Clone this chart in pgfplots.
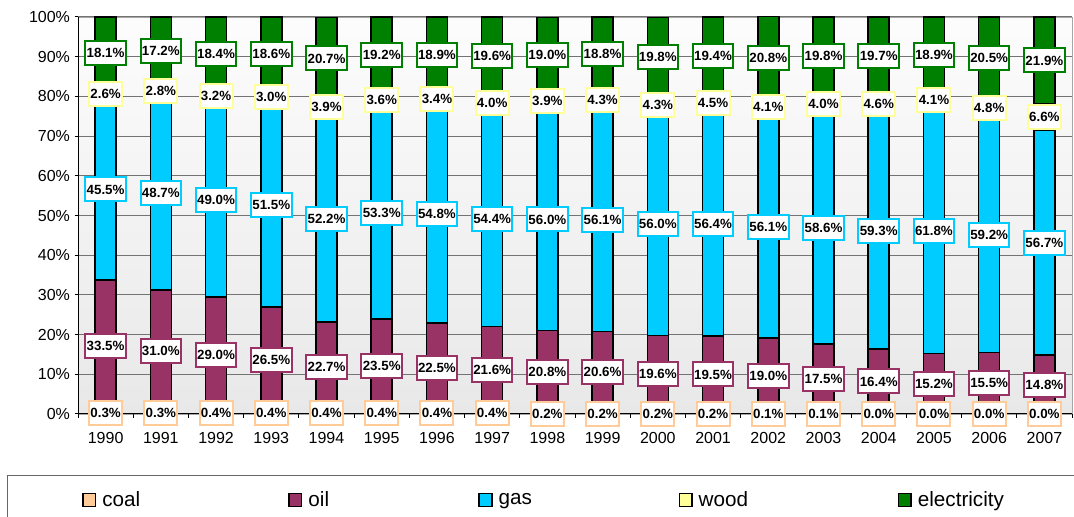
\documentclass[border=0pt]{standalone}
\usepackage{fontspec}
\setmainfont{Liberation Sans}
\usepackage{pgfplots}
\usepackage{pgfplotstable}
\pgfplotsset{compat=1.18}
\definecolor{ccoal}{HTML}{FFCC99}
\definecolor{coil}{HTML}{993366}
\definecolor{cgas}{HTML}{00CCFF}
\definecolor{cwood}{HTML}{FFFF99}
\definecolor{celec}{HTML}{008000}

\pgfplotstableread{
x year coal oil gas wood elec
0 1990 0.3 33.5 45.5 2.6 18.1
1 1991 0.3 31.0 48.7 2.8 17.2
2 1992 0.4 29.0 49.0 3.2 18.4
3 1993 0.4 26.5 51.5 3.0 18.6
4 1994 0.4 22.7 52.2 3.9 20.7
5 1995 0.4 23.5 53.3 3.6 19.2
6 1996 0.4 22.5 54.8 3.4 18.9
7 1997 0.4 21.6 54.4 4.0 19.6
8 1998 0.2 20.8 56.0 3.9 19.0
9 1999 0.2 20.6 56.1 4.3 18.8
10 2000 0.2 19.6 56.0 4.3 19.8
11 2001 0.2 19.5 56.4 4.5 19.4
12 2002 0.1 19.0 56.1 4.1 20.8
13 2003 0.1 17.5 58.6 4.0 19.8
14 2004 0.0 16.4 59.3 4.6 19.7
15 2005 0.0 15.2 61.8 4.1 18.9
16 2006 0.0 15.5 59.2 4.8 20.5
17 2007 0.0 14.8 56.7 6.6 21.9
}\datatable

\pgfplotsset{
  base/.style={scale only axis, width=745.5pt, height=297.75pt,
    at={(58.5pt,77.25pt)}, anchor=south west,
    xmin=-0.5, xmax=17.5, ymin=0, ymax=100,
    ybar stacked, bar width=0.38,
    /pgf/number format/assume math mode=true},
  lab/.style={draw=none, fill=none,
    visualization depends on=rawy \as \rawy,
    nodes near coords={\pgfmathprintnumber[fixed,fixed zerofill,precision=1,assume math mode=true]{\rawy}\%},
    every node near coord/.style={anchor=center,
      fill=white, draw=#1, line width=1.5pt, inner xsep=1pt, inner ysep=0pt,
      minimum height=18pt, text=black,
      font=\bfseries\fontsize{10}{12}\selectfont}},
  bars/.style={fill=#1, draw=black, line width=1.2pt},
}

\begin{document}
\begin{tikzpicture}
\begin{axis}[base,
  axis background/.style={shade, top color=black!1, bottom color=black!9, draw=black!35},
  ymajorgrids, grid style={black!55, line width=0.75pt},
  ytick={0,10,...,100},
  yticklabel={\pgfmathprintnumber{\tick}\%},
  xtick={0,...,17},
  xticklabels={1990,1991,1992,1993,1994,1995,1996,1997,1998,1999,2000,2001,2002,2003,2004,2005,2006,2007},
  major x tick style={draw=none},
  minor xtick={-0.5,0.5,...,17.5},
  minor x tick style={black, line width=0.75pt},
  minor tick length=3pt,
  major tick length=2.5pt,
  ytick style={black, line width=0.75pt},
  tick align=outside,
  axis x line*=bottom, axis y line*=left,
  axis line style={-, black, line width=0.75pt},
  ticklabel style={font=\fontsize{12}{14}\selectfont},
  xticklabel style={yshift=-7.5pt},
  legend columns=5,
  legend style={at={(-0.0714,-0.1537)}, anchor=north west,
    draw=black!60, line width=0.75pt, fill=white,
    inner xsep=56pt, inner ysep=12pt,
    font=\fontsize{15.5}{18}\selectfont,
    nodes={inner sep=0pt},
    /tikz/every odd column/.append style={column sep=4.5pt}},
  legend image code/.code={\draw[#1, line width=1.1pt] (0.5pt,-4.75pt) rectangle (10pt,4.75pt);},
]
\addplot[bars=ccoal] table[x=x, y=coal] {\datatable};
\addlegendentry{\makebox[139.5pt][l]{coal}}
\addplot[bars=coil] table[x=x, y=oil] {\datatable};
\addlegendentry{\makebox[127.5pt][l]{oil}}
\addplot[bars=cgas] table[x=x, y=gas] {\datatable};
\addlegendentry{\makebox[135pt][l]{gas}}
\addplot[bars=cwood] table[x=x, y=wood] {\datatable};
\addlegendentry{\makebox[149.25pt][l]{wood}}
\addplot[bars=celec] table[x=x, y=elec] {\datatable};
\addlegendentry{\makebox[75pt][l]{electricity}}
\end{axis}
\begin{axis}[base, hide axis, clip=false, stacked ignores zero=false]
\addplot[lab=ccoal] table[x=x, y=coal] {\datatable};
\addplot[lab=coil] table[x=x, y=oil] {\datatable};
\addplot[lab=cgas] table[x=x, y=gas] {\datatable};
\addplot[lab=cwood] table[x=x, y=wood] {\datatable};
\addplot[lab=celec] table[x=x, y=elec] {\datatable};
\end{axis}
\pgfresetboundingbox
\path[use as bounding box] (0,0) rectangle (805.5pt,387.75pt);
\end{tikzpicture}
\end{document}
